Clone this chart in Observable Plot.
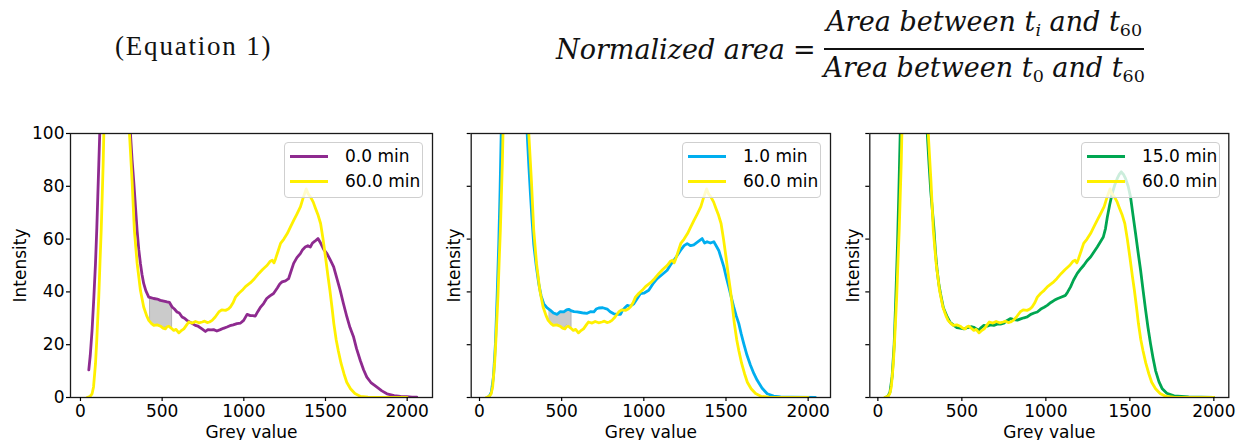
<!DOCTYPE html>
<html>
<head>
<meta charset="utf-8">
<script src="https://cdn.jsdelivr.net/npm/d3@7"></script>
<script src="https://cdn.jsdelivr.net/npm/@observablehq/plot@0.6"></script>
<style>
  html, body { margin: 0; padding: 0; background: #fff; }
  body { width: 1238px; height: 440px; position: relative; overflow: hidden; }
  #eqlabel { position: absolute; left: 115px; top: 30px; font-family: "Liberation Serif", serif; font-size: 27px; letter-spacing: 1.8px; color: #111; line-height: 32px; }
  #equation { position: absolute; left: 556px; top: 8px; display: flex; align-items: center; font-family: "DejaVu Serif", serif; font-style: italic; font-size: 27px; color: #111; }
  #equation .eq { font-style: normal; margin: 0 6px 0 8px; }
  .frac { display: inline-flex; flex-direction: column; align-items: center; }
  .frac .num { line-height: 28px; padding: 0 2px 4px 2px; border-bottom: 2px solid #111; }
  .frac .den { line-height: 28px; padding: 4px 2px 0 2px; }
  .sb { font-size: 65%; vertical-align: -0.3em; }
  .sbu { font-size: 65%; vertical-align: -0.3em; font-style: normal; }
  .panel { position: absolute; top: 100px; }
  .legend { position: absolute; top: 42px; width: 137px; height: 54px; border: 1px solid #cfcfcf; border-radius: 4px; background: rgba(255,255,255,0.8); font-family: "DejaVu Sans", sans-serif; font-size: 17px; color: #000; }
  .legend .row { position: absolute; left: 0; height: 20px; display: flex; align-items: center; }
  .legend .sw { display: inline-block; width: 38px; height: 3px; margin-left: 5px; margin-right: 17px; }
</style>
</head>
<body>
<div id="eqlabel">(Equation 1)</div>
<div id="equation">
  <span>Normalized area</span><span class="eq">=</span>
  <span class="frac">
    <span class="num">Area between t<span class="sb">i</span> and t<span class="sbu">60</span></span>
    <span class="den">Area between t<span class="sbu">0</span> and t<span class="sbu">60</span></span>
  </span>
</div>
<div id="p1" class="panel" style="left:0px"></div>
<div id="p2" class="panel" style="left:420px"></div>
<div id="p3" class="panel" style="left:820px"></div>
<script>
// ---------- data ----------
const xTicks = [0, 500, 1000, 1500, 2000];
const yTicks = [0, 20, 40, 60, 80, 100];
const seriesLabels = ["0.0 min", "1.0 min", "15.0 min", "60.0 min"];

// 60.0 min (yellow, shown in every panel)
const grey60 = [41, 60, 71, 80, 92, 100, 112, 120, 127, 139, 143, 160, 200, 260, 290, 300, 316, 330, 347, 367, 387, 405, 418, 435, 449, 470, 490, 505, 520, 530, 541, 555, 571, 585, 602, 615, 633, 650, 663, 685, 704, 725, 745, 760, 776, 790, 806, 825, 847, 865, 888, 905, 918, 935, 949, 970, 990, 1010, 1041, 1065, 1092, 1115, 1143, 1160, 1174, 1185, 1194, 1210, 1225, 1245, 1266, 1285, 1306, 1325, 1347, 1365, 1382, 1395, 1408, 1425, 1439, 1455, 1470, 1485, 1500, 1515, 1527, 1540, 1551, 1565, 1578, 1595, 1613, 1630, 1653, 1680, 1715, 1760, 1800, 1900, 2000];
const int60  = [0, 0.5, 1.4, 4, 12.8, 22, 38, 52, 63.4, 88.7, 100, 140, 190, 170, 125, 100, 82, 63.4, 50.8, 40.6, 34.3, 31, 29.2, 28, 27.3, 27.5, 27, 26.3, 26, 26.8, 27, 26.3, 25.4, 25.8, 24.5, 25.2, 26, 27.5, 28.6, 28.2, 28.8, 28.3, 28.6, 28.9, 28.4, 28.6, 29.2, 30.5, 32.4, 33.2, 33, 33.5, 34.3, 36, 38, 39.5, 40.6, 42, 43.5, 45, 47, 48.5, 50.1, 51.5, 52, 51, 52.5, 55.5, 58.4, 60, 62.1, 64.5, 67.2, 69.5, 72.3, 76, 79, 77, 76, 74, 71.6, 69, 65.9, 60, 53.2, 46, 40.6, 34, 28, 22, 17.8, 13, 9, 5.8, 3.3, 1.5, 0.4, 0.1, 0, 0, 0];

// 0.0 min (purple)
const grey0 = [51, 60, 71, 82, 92, 100, 106, 112, 118, 130, 200, 270, 295, 306, 316, 326, 337, 347, 357, 367, 377, 387, 400, 418, 430, 448, 470, 489, 510, 530, 545, 561, 575, 591, 605, 622, 637, 652, 670, 685, 703, 720, 744, 765, 780, 800, 815, 835, 856, 875, 897, 915, 935, 958, 980, 999, 1020, 1040, 1055, 1070, 1085, 1100, 1121, 1140, 1160, 1182, 1205, 1220, 1234, 1255, 1274, 1290, 1305, 1325, 1346, 1360, 1376, 1392, 1407, 1420, 1435, 1454, 1470, 1490, 1509, 1530, 1550, 1570, 1590, 1610, 1631, 1650, 1672, 1690, 1713, 1733, 1753, 1780, 1815, 1845, 1876, 1920, 1960, 1998, 2030, 2059];
const int0  = [10.5, 16, 25.4, 38, 50.8, 64, 76, 88, 100, 125, 200, 160, 118, 100, 90, 82, 72, 63, 56, 50.8, 46.5, 43.2, 40.5, 38, 37.8, 37.5, 37.3, 36.8, 36.5, 36.2, 36, 34.3, 33.5, 32.4, 32, 30.5, 30, 29.2, 28.5, 28, 27.3, 27, 26, 25, 25.7, 25.6, 25.7, 25.2, 25.7, 26.2, 26.7, 27.2, 27.5, 28, 28.2, 29.2, 31.5, 31, 31, 30.8, 32.5, 34, 35.6, 37.5, 38.5, 39.4, 41.5, 43, 43.8, 44.2, 45, 48, 50.8, 53, 54.5, 56, 57, 57.5, 57, 58.5, 59.2, 60.2, 58.5, 56, 54.5, 52, 49.5, 45, 40.6, 35.5, 30.5, 26.5, 22.9, 18.5, 14, 10.5, 7.7, 5.5, 3.9, 2.5, 1.4, 0.7, 0.4, 0.3, 0.15, 0.1];

// 1.0 min (blue)
const grey1 = [47, 60, 72, 85, 97, 107, 117, 125, 132, 140, 200, 260, 280, 290, 300, 310, 320, 330, 345, 361, 375, 391, 410, 432, 450, 473, 490, 513, 530, 543, 560, 575, 594, 615, 635, 655, 675, 696, 710, 726, 750, 777, 795, 817, 840, 858, 870, 885, 899, 915, 939, 960, 980, 1000, 1030, 1055, 1081, 1110, 1142, 1160, 1183, 1200, 1223, 1245, 1264, 1285, 1304, 1330, 1355, 1370, 1385, 1405, 1426, 1440, 1456, 1472, 1487, 1502, 1517, 1532, 1547, 1562, 1578, 1593, 1608, 1628, 1649, 1670, 1690, 1720, 1751, 1790, 1832, 1900, 2044];
const int1  = [0, 0.5, 2, 8, 20.4, 38, 58, 78, 100, 118, 190, 160, 120, 100, 88, 77, 67, 58, 50, 43, 38.5, 35.5, 34, 33, 32, 31.5, 32.5, 32.4, 33.2, 33.4, 32.8, 32.5, 32.4, 32.2, 32, 31.9, 32.5, 32.4, 33.5, 33.9, 34, 33.5, 32.5, 31.7, 31.5, 31.5, 33, 34, 34.9, 34.5, 35.5, 37.5, 39.4, 39.5, 40.6, 43, 45, 46.5, 48.2, 50, 52, 53.5, 55.7, 57.5, 58.3, 57.5, 57.8, 59, 60.2, 58.5, 59, 58.5, 59, 57.5, 55.7, 52.5, 49.5, 45.5, 41.9, 38, 34.3, 31, 28, 24, 20.4, 16, 12.2, 9, 6.5, 3.5, 1.4, 0.5, 0.2, 0.1, 0];

// 15.0 min (green)
const grey15 = [45, 60, 72, 85, 97, 107, 117, 125, 133, 140, 200, 260, 285, 294, 305, 315, 323, 333, 343, 353, 363, 373, 390, 413, 430, 452, 470, 490, 512, 535, 555, 571, 585, 601, 615, 631, 650, 670, 690, 710, 730, 750, 770, 790, 810, 830, 850, 870, 889, 910, 930, 949, 970, 990, 1008, 1030, 1050, 1068, 1090, 1117, 1130, 1147, 1165, 1187, 1205, 1226, 1245, 1266, 1285, 1306, 1325, 1342, 1355, 1366, 1380, 1395, 1410, 1425, 1437, 1449, 1462, 1474, 1490, 1504, 1519, 1534, 1549, 1564, 1579, 1594, 1608, 1623, 1638, 1653, 1673, 1693, 1720, 1763, 1850, 2000];
const int15  = [0, 0.5, 2, 8, 20, 38, 58, 78, 100, 118, 190, 160, 115, 100, 88, 78, 72, 64.5, 55, 48, 43, 39.3, 34, 30.5, 28.5, 27.3, 26.5, 26.3, 26, 26.5, 26.8, 26.6, 26, 25.5, 26.5, 27.3, 27, 27.5, 27.3, 27.8, 27.8, 28.2, 29.2, 29.9, 29.5, 29.3, 29.8, 30.2, 30.5, 31.5, 32, 32.4, 33.5, 34.2, 34.9, 36, 36.8, 37.4, 38, 38.7, 40, 41.9, 44.5, 47, 48.5, 50.1, 51.8, 53.2, 55, 57, 59, 60.8, 64, 68.4, 73, 77.3, 80.5, 83, 84.5, 85.5, 84.5, 83, 80, 76, 69, 62.1, 55, 48.2, 40.5, 33, 26.5, 20.4, 15, 10.2, 6, 3.3, 1.6, 0.6, 0.2, 0];

// shaded areas (between t_i curve and 60 min curve)
const shadeGrey1 = [428, 450, 470, 490, 510, 530, 545, 561];
const shadeTop1  = [37.8, 37.5, 37.3, 36.8, 36.5, 36.2, 36, 34.3];
const shadeBot1  = [28.6, 27.3, 27.5, 27, 26.4, 26.6, 27, 26.2];
const shadeGrey2 = [428, 450, 473, 493, 513, 533, 545, 560];
const shadeTop2  = [33.2, 32, 31.5, 32.4, 32.4, 33.2, 33.4, 32.8];
const shadeBot2  = [28.3, 27.4, 27.3, 26.6, 26.2, 27.3, 26.8, 26.2];

// colours
const colours = { "0.0 min": "#8E2A8F", "1.0 min": "#00AEEF", "15.0 min": "#00A651", "60.0 min": "#FFF000" };

// ---------- build ----------
const toRows = (xs, ys) => xs.map((x, i) => ({x, y: ys[i]}));
const toShade = (xs, top, bot) => xs.map((x, i) => ({x, hi: top[i], lo: bot[i]}));

function panel(el, opt) {
  const marks = [];
  if (opt.shade) {
    marks.push(Plot.areaY(opt.shade, {x: "x", y1: "lo", y2: "hi", fill: "#cbcbcb", stroke: "#b4b4b4", strokeWidth: 1, curve: "linear"}));
  }
  marks.push(Plot.line(opt.ti, {x: "x", y: "y", stroke: colours[opt.label], strokeWidth: 2.8, clip: true}));
  marks.push(Plot.line(toRows(grey60, int60), {x: "x", y: "y", stroke: colours["60.0 min"], strokeWidth: 2.8, clip: true}));
  marks.push(Plot.frame({stroke: "#1a1a1a", strokeWidth: 1.3}));
  marks.push(Plot.axisX({ticks: xTicks, tickSize: 4, tickPadding: 3, strokeWidth: 1.2,
    tickFormat: d => String(d),
    label: "Grey value", labelAnchor: "center", labelArrow: "none", labelOffset: 40}));
  marks.push(Plot.axisY({ticks: yTicks, tickSize: 4, tickPadding: 2, strokeWidth: 1.2,
    tickFormat: opt.yLabels ? (d => String(d)) : (() => ""),
    label: "Intensity", labelAnchor: "center", labelArrow: "none", labelOffset: opt.yLabelOffset}));

  const chart = Plot.plot({
    width: opt.width, height: 340,
    marginTop: 33, marginBottom: 43, marginLeft: opt.marginLeft, marginRight: opt.marginRight,
    style: {fontFamily: "'DejaVu Sans', sans-serif", fontSize: "17px", color: "#000", background: "transparent", overflow: "visible"},
    x: {domain: opt.domain},
    y: {domain: [0, 100]},
    marks
  });
  el.appendChild(chart);

  const lg = document.createElement("div");
  lg.className = "legend";
  lg.style.left = opt.legendLeft + "px";
  [[opt.label, 3], ["60.0 min", 28]].forEach(([name, top]) => {
    const row = document.createElement("div");
    row.className = "row";
    row.style.top = top + "px";
    const sw = document.createElement("span");
    sw.className = "sw";
    sw.style.background = colours[name];
    const tx = document.createElement("span");
    tx.textContent = name;
    row.appendChild(sw); row.appendChild(tx);
    lg.appendChild(row);
  });
  el.appendChild(lg);
}

panel(document.getElementById("p1"), {
  width: 440, marginLeft: 70, marginRight: 8, domain: [-61, 2155],
  ti: toRows(grey0, int0), label: seriesLabels[0], shade: toShade(shadeGrey1, shadeTop1, shadeBot1),
  yLabels: true, yLabelOffset: 57, legendLeft: 284
});
panel(document.getElementById("p2"), {
  width: 420, marginLeft: 50.7, marginRight: 10, domain: [-50.5, 2136],
  ti: toRows(grey1, int1), label: seriesLabels[1], shade: toShade(shadeGrey2, shadeTop2, shadeBot2),
  yLabels: false, yLabelOffset: 23.5, legendLeft: 262
});
panel(document.getElementById("p3"), {
  width: 418, marginLeft: 49.3, marginRight: 9.7, domain: [-48, 2089],
  ti: toRows(grey15, int15), label: seriesLabels[2], shade: null,
  yLabels: false, yLabelOffset: 23, legendLeft: 261
});
</script>
</body>
</html>
